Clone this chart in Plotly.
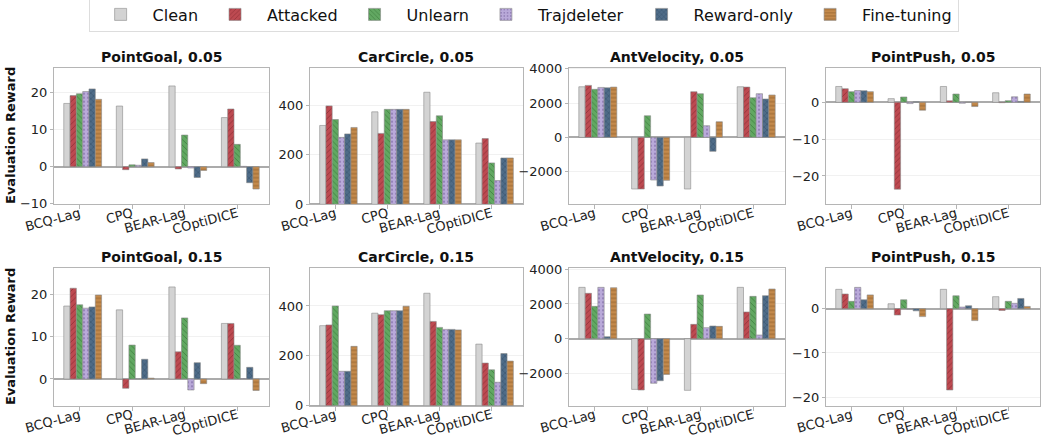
import plotly.graph_objects as go

categories = ["BCQ-Lag", "CPQ", "BEAR-Lag", "COptiDICE"]
methods = ["Clean", "Attacked", "Unlearn", "Trajdeleter", "Reward-only", "Fine-tuning"]

pointgoal_005 = {
    "Clean": [17.0, 16.3, 21.7, 13.2],
    "Attacked": [19.1, -0.8, -0.6, 15.5],
    "Unlearn": [19.6, 0.5, 8.5, 6.0],
    "Trajdeleter": [20.2, 0.4, -0.35, 0.1],
    "Reward-only": [20.9, 2.1, -2.9, -4.3],
    "Fine-tuning": [18.1, 1.1, -1.0, -6.0],
}
carcircle_005 = {
    "Clean": [318, 373, 452, 247],
    "Attacked": [397, 286, 334, 265],
    "Unlearn": [342, 383, 357, 167],
    "Trajdeleter": [270, 383, 260, 96],
    "Reward-only": [284, 383, 260, 187],
    "Fine-tuning": [310, 383, 260, 187],
}
antvelocity_005 = {
    "Clean": [2950, -3010, -3010, 2950],
    "Attacked": [3030, -3010, 2660, 2930],
    "Unlearn": [2800, 1260, 2545, 2310],
    "Trajdeleter": [2910, -2485, 680, 2545],
    "Reward-only": [2890, -2835, -815, 2235],
    "Fine-tuning": [2930, -2505, 910, 2470],
}
pointpush_005 = {
    "Clean": [4.3, 1.0, 4.3, 2.6],
    "Attacked": [3.7, -23.6, 0.4, -0.1],
    "Unlearn": [2.9, 1.45, 2.25, 0.45],
    "Trajdeleter": [3.2, -0.35, -0.25, 1.5],
    "Reward-only": [3.15, 0.15, 0.05, 0.25],
    "Fine-tuning": [2.9, -2.15, -1.15, 2.25],
}
pointgoal_015 = {
    "Clean": [17.2, 16.3, 21.7, 13.1],
    "Attacked": [21.4, -2.2, 6.4, 13.1],
    "Unlearn": [17.5, 8.0, 14.4, 7.95],
    "Trajdeleter": [16.7, 0.05, -2.6, 0.1],
    "Reward-only": [17.0, 4.65, 3.85, 2.75],
    "Fine-tuning": [19.8, 0.2, -1.1, -2.7],
}
carcircle_015 = {
    "Clean": [321, 371, 451, 247],
    "Attacked": [324, 365, 338, 171],
    "Unlearn": [400, 381, 314, 144],
    "Trajdeleter": [138, 381, 306, 94],
    "Reward-only": [138, 381, 306, 209],
    "Fine-tuning": [238, 399, 304, 179],
}
antvelocity_015 = {
    "Clean": [2960, -2925, -2980, 2960],
    "Attacked": [2615, -2960, 825, 1540],
    "Unlearn": [1865, 1420, 2520, 2440],
    "Trajdeleter": [2960, -2575, 635, 210],
    "Reward-only": [115, -2425, 730, 2480],
    "Fine-tuning": [2940, -2060, 710, 2865],
}
pointpush_015 = {
    "Clean": [4.35, 1.1, 4.35, 2.7],
    "Attacked": [3.3, -1.45, -18.35, -0.4],
    "Unlearn": [1.65, 2.0, 2.9, 1.65],
    "Trajdeleter": [4.8, -0.1, 0.35, 1.2],
    "Reward-only": [2.0, -0.5, 0.65, 2.3],
    "Fine-tuning": [3.1, -1.8, -2.7, 0.5],
}

panels = [pointgoal_005, carcircle_005, antvelocity_005, pointpush_005,
          pointgoal_015, carcircle_015, antvelocity_015, pointpush_015]
panel_titles = ["PointGoal, 0.05", "CarCircle, 0.05", "AntVelocity, 0.05", "PointPush, 0.05",
                "PointGoal, 0.15", "CarCircle, 0.15", "AntVelocity, 0.15", "PointPush, 0.15"]
y_ranges = [[-10.1, 26.6], [0, 551], [-3900, 4060], [-27.7, 9.4],
            [-6.3, 26.1], [0, 551], [-3865, 4058], [-21.9, 9.1]]
y_ticks = [[-10, 0, 10, 20], [0, 200, 400], [-2000, 0, 2000, 4000], [-20, -10, 0],
           [0, 10, 20], [0, 200, 400], [-2000, 0, 2000, 4000], [-20, -10, 0]]

colors = {"Clean": "#d3d3d3", "Attacked": "#bd4a51", "Unlearn": "#62a862",
          "Trajdeleter": "#b9a9d9", "Reward-only": "#4f6c88", "Fine-tuning": "#c48a4c"}
fg_colors = {"Clean": "#d3d3d3", "Attacked": "#8e2f36", "Unlearn": "#3d7d3d",
             "Trajdeleter": "#8a78b0", "Reward-only": "#2f4a63", "Fine-tuning": "#8f5f2a"}
patterns = {"Clean": "", "Attacked": "/", "Unlearn": "\\", "Trajdeleter": ".",
            "Reward-only": "x", "Fine-tuning": "-"}

W, H = 1041, 439
col_px = [(54, 269), (310, 523), (569, 785), (826, 1040)]
row_px = [(67.7, 204.3), (268.3, 405.7)]
bar_w = 0.12
FONT = "DejaVu Sans"

fig = go.Figure()
annotations = []
layout_axes = {}

for p in range(8):
    r, c = divmod(p, 4)
    data = panels[p]
    xname = "x" if p == 0 else f"x{p+1}"
    yname = "y" if p == 0 else f"y{p+1}"
    for k, m in enumerate(methods):
        fig.add_trace(go.Bar(
            x=categories, y=data[m], name=m,
            xaxis=xname, yaxis=yname,
            width=bar_w, offset=(k - 2.5) * bar_w,
            legendgroup=m, showlegend=(p == 0),
            marker=dict(color=colors[m],
                        line=dict(color="#8a8a8a", width=0.6),
                        pattern=dict(shape=patterns[m], size=4, solidity=0.2,
                                     fgcolor=fg_colors[m], bgcolor=colors[m],
                                     fillmode="replace")),
        ))
    x0, x1 = col_px[c]
    ytop, ybot = row_px[r]
    xd = [x0 / W, x1 / W]
    yd = [1 - ybot / H, 1 - ytop / H]
    xkey = "xaxis" if p == 0 else f"xaxis{p+1}"
    ykey = "yaxis" if p == 0 else f"yaxis{p+1}"
    layout_axes[xkey] = dict(
        domain=xd, anchor=yname, type="category", categoryarray=categories,
        range=[-0.486, 3.606], showline=True, mirror=True, linecolor="#b5b5b5",
        linewidth=1, ticks="outside", ticklen=4, tickcolor="#b5b5b5",
        tickangle=-15, ticklabelstandoff=-8,
        tickfont=dict(family=FONT, size=13, color="#222"),
        showgrid=False, zeroline=False, automargin=False)
    layout_axes[ykey] = dict(
        domain=yd, anchor=xname, range=y_ranges[p], tickvals=y_ticks[p],
        showline=True, mirror=True, linecolor="#b5b5b5", linewidth=1,
        ticks="outside", ticklen=3, tickcolor="#b5b5b5",
        tickfont=dict(family=FONT, size=13, color="#222"),
        showgrid=True, gridcolor="#f1f1f1", gridwidth=1,
        zeroline=True, zerolinecolor="#ababab", zerolinewidth=1.5,
        automargin=False)
    annotations.append(dict(
        text=f"<b>{panel_titles[p]}</b>", xref="paper", yref="paper",
        x=(xd[0] + xd[1]) / 2, y=yd[1], xanchor="center", yanchor="bottom",
        yshift=1, showarrow=False, font=dict(family=FONT, size=14, color="#111")))
    if c == 0:
        annotations.append(dict(
            text="<b>Evaluation Reward</b>", xref="paper", yref="paper",
            x=10 / W, y=(yd[0] + yd[1]) / 2, xanchor="center", yanchor="middle",
            textangle=-90, showarrow=False,
            font=dict(family=FONT, size=13, color="#111")))

fig.update_layout(
    width=W, height=H, margin=dict(l=0, r=0, t=0, b=0, autoexpand=False),
    plot_bgcolor="white", paper_bgcolor="white",
    barmode="overlay",
    font=dict(family=FONT, size=13, color="#222"),
    annotations=annotations,
    legend=dict(orientation="h", x=0.503, xanchor="center", y=1.008, yanchor="top",
                bordercolor="#dddddd", borderwidth=1,
                font=dict(family=FONT, size=16, color="#111"),
                itemwidth=54, tracegroupgap=0),
    **layout_axes,
)

fig.write_html("out.html", config={"displayModeBar": False},
               post_script="document.body.style.margin='0';")
